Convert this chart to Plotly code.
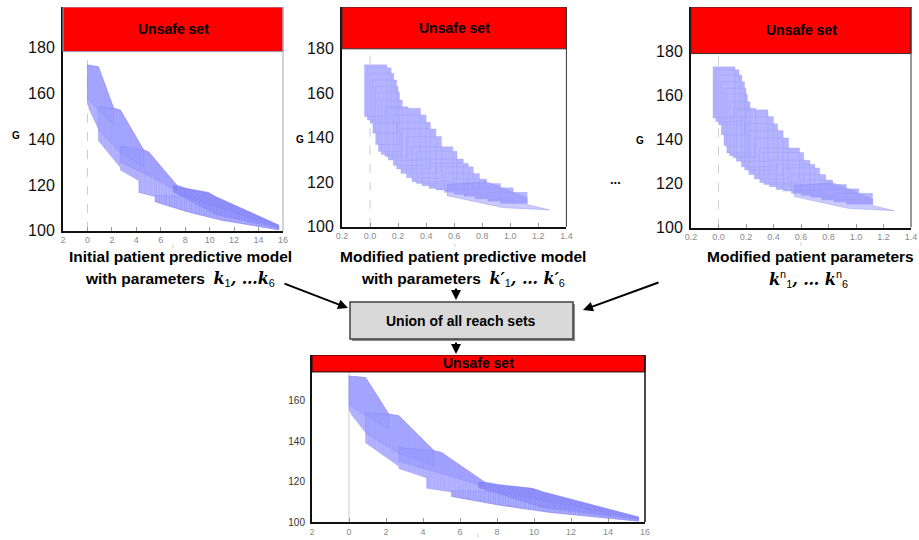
import plotly.graph_objects as go

W, H = 919, 540

# ---------------- data ----------------
# Panel 1 (initial model) and union panel: reach-set flowpipe, time t vs glucose G
p1_env_t = [0, 0.9, 2.15, 2.7, 4.6, 5.0, 7.3, 8.1, 9.9, 10.5, 15.65, 15.65, 10.9, 8.1, 5.55, 5.55,
            4.2, 4.2, 4.0, 2.7, 2.7, 0.9, 0.9, 0.5, 0.15, 0]
p1_env_g = [172.4, 171.6, 153.5, 152.7, 135.3, 134.5, 120.0, 118.5, 116.7, 114.9, 102.5, 100.4, 104.7,
            108.4, 112.7, 114.9, 116.7, 121.8, 122.5, 126.5, 127.6, 139.3, 144.4, 149.0, 153.0, 156.0]
p1_seg1_t = [0, 0.9, 2.15, 2.15, 0.9, 0]
p1_seg1_g = [172.4, 171.6, 153.5, 146.0, 153.0, 158.0]
p1_seg2_t = [0.9, 2.15, 2.7, 4.6, 4.6, 2.7, 0.9]
p1_seg2_g = [154.0, 153.5, 152.7, 135.3, 128.0, 134.0, 144.0]
p1_seg3_t = [2.7, 4.6, 5.0, 7.3, 7.3, 5.0, 2.7]
p1_seg3_g = [137.0, 135.3, 134.5, 120.0, 117.5, 124.0, 130.0]
p1_seg4_t = [7.0, 8.1, 9.9, 10.5, 15.65, 15.65, 10.5, 7.0]
p1_seg4_g = [120.0, 118.5, 116.7, 114.9, 102.5, 101.0, 107.0, 117.0]
p1_seg5_t = [5.55, 8.1, 15.65, 15.65, 10.9, 8.1, 5.55]
p1_seg5_g = [115.5, 115.0, 101.5, 100.4, 104.7, 108.4, 112.7]

# Panels 2 and 3 (modified models): boxes [t0, t1] x [g0, g1]
p2_box_t0 = [-0.04, -0.02, 0.00, 0.02, 0.04, 0.06, 0.08, 0.107, 0.13, 0.166, 0.19, 0.22, 0.26,
             0.30, 0.33, 0.37, 0.42, 0.47, 0.53, 0.60, 0.67, 0.75, 0.84, 0.93]
p2_box_t1 = [0.12, 0.15, 0.17, 0.19, 0.20, 0.21, 0.23, 0.27, 0.36, 0.40, 0.43, 0.47, 0.51,
             0.59, 0.62, 0.665, 0.70, 0.736, 0.78, 0.83, 0.93, 1.02, 1.12, 1.12]
p2_box_g0 = [149.6, 148.0, 146.6, 142.0, 137.0, 133.8, 132.5, 131.6, 130.0, 127.5, 126.0, 124.0, 122.0,
             120.3, 119.5, 118.5, 117.2, 116.5, 115.5, 114.5, 113.7, 112.5, 111.5, 110.5]
p2_box_g1 = [172.8, 171.5, 169.0, 166.0, 163.0, 160.5, 157.0, 154.0, 153.3, 150.3, 147.0, 144.0, 140.6,
             136.0, 134.0, 130.5, 128.6, 127.0, 124.0, 121.5, 119.5, 117.5, 115.5, 112.8]
p2_tail_t = [0.55, 0.83, 1.12, 1.12, 1.28, 0.95, 0.55]
p2_tail_g = [119.0, 120.3, 112.8, 110.0, 107.6, 108.6, 114.0]

y_ticks_big = [100, 120, 140, 160, 180]
y_ticks_union = [100, 120, 140, 160]
t_ticks_hours = [-2, 0, 2, 4, 6, 8, 10, 12, 14, 16]
t_text_hours = ["2", "0", "2", "4", "6", "8", "10", "12", "14", "16"]
t_ticks_short = [-0.2, 0.0, 0.2, 0.4, 0.6, 0.8, 1.0, 1.2, 1.4]
t_text_short = ["0.2", "0.0", "0.2", "0.4", "0.6", "0.8", "1.0", "1.2", "1.4"]

# ---------------- layout helpers ----------------
def PX(px):
    return px / W

def PY(py):
    return 1 - py / H

panels = [
    dict(k="", xd=(63, 283), yd=(7, 230.8), xr=[-2, 16], yr=[100, 197.7], red=178.2,
         yt=y_ticks_big, yfs=16, xt=t_ticks_hours, xtt=t_text_hours, edge="#9aa6c0", dash="dash"),
    dict(k="2", xd=(342, 566.4), yd=(7, 226.8), xr=[-0.2, 1.4], yr=[100, 198.8], red=180.0,
         yt=y_ticks_big, yfs=16, xt=t_ticks_short, xtt=t_text_short, edge="#333333", dash="dash"),
    dict(k="3", xd=(691, 911), yd=(7, 227.5), xr=[-0.2, 1.4], yr=[100, 199.9], red=178.8,
         yt=y_ticks_big, yfs=16, xt=t_ticks_short, xtt=t_text_short, edge="#333333", dash="dash"),
    dict(k="4", xd=(312, 645), yd=(355, 522), xr=[-2, 16], yr=[100, 182.8], red=174.4,
         yt=y_ticks_union, yfs=10, xt=t_ticks_hours, xtt=t_text_hours, edge="#111111", dash="solid"),
]

fig = go.Figure()

edge_col = "rgba(125,125,245,0.55)"

def add_poly(t, g, k, fill, pat=None, fg=None, size=2.5, sol=0.3):
    kw = {}
    if pat:
        kw["fillpattern"] = dict(shape=pat, fgcolor=fg, size=size, solidity=sol, fillmode="overlay")
    fig.add_trace(go.Scatter(
        x=t + [t[0]], y=g + [g[0]], mode="lines", fill="toself", fillcolor=fill,
        line=dict(color=edge_col, width=0.6), hoverinfo="skip", showlegend=False,
        xaxis="x" + k, yaxis="y" + k, **kw))

def add_flowpipe(k):
    add_poly(p1_env_t, p1_env_g, k, "rgb(180,180,255)", "|", "rgba(140,140,250,0.7)", 2.5, 0.3)
    hatch = "rgba(120,120,245,0.7)"
    add_poly(p1_seg1_t, p1_seg1_g, k, "rgba(160,160,255,0.45)", "-", hatch, 2, 0.3)
    add_poly(p1_seg2_t, p1_seg2_g, k, "rgba(160,160,255,0.45)", "-", hatch, 2, 0.3)
    add_poly(p1_seg3_t, p1_seg3_g, k, "rgba(150,150,255,0.45)", "-", hatch, 2, 0.3)
    add_poly(p1_seg4_t, p1_seg4_g, k, "rgba(120,120,245,0.55)", "/", "rgba(100,100,235,0.7)", 3, 0.3)
    add_poly(p1_seg5_t, p1_seg5_g, k, "rgba(160,160,255,0.35)", "|", hatch, 2.5, 0.3)

def add_boxes(k):
    bx, by = [], []
    for a, b, c, d in zip(p2_box_t0, p2_box_t1, p2_box_g0, p2_box_g1):
        bx += [a, b, b, a, a, None]
        by += [c, c, d, d, c, None]
    fig.add_trace(go.Scatter(
        x=bx, y=by, mode="lines", fill="toself", fillcolor="rgb(180,180,255)",
        line=dict(color="rgba(140,140,250,0.4)", width=0.6), hoverinfo="skip",
        showlegend=False, xaxis="x" + k, yaxis="y" + k))
    add_poly(p2_tail_t, p2_tail_g, k, "rgba(150,150,250,0.45)", "-", "rgba(120,120,240,0.5)", 2, 0.3)

add_flowpipe("")
add_boxes("2")
add_boxes("3")
add_flowpipe("4")

layout = dict(width=W, height=H, margin=dict(l=0, r=0, t=0, b=0, autoexpand=False),
              paper_bgcolor="white", plot_bgcolor="white", showlegend=False)
shapes = []
ann = []

def note(text, x, y, size, color="black", family="Liberation Sans"):
    ann.append(dict(text=text, x=PX(x), y=PY(y), xref="paper", yref="paper", showarrow=False,
                    xanchor="center", yanchor="middle",
                    font=dict(family=family, size=size, color=color)))

for p in panels:
    k = p["k"]
    xa = "xaxis" + k
    ya = "yaxis" + k
    layout[xa] = dict(domain=[PX(p["xd"][0]), PX(p["xd"][1])], range=p["xr"], anchor="y" + k,
                      automargin=False,
                      showgrid=False, zeroline=False, showline=True, linecolor="#111", linewidth=1.5,
                      tickvals=p["xt"], ticktext=p["xtt"], ticks="inside", ticklen=4, tickcolor="#999",
                      tickfont=dict(family="Liberation Sans", size=9, color="#8a8a8a"),
                      minor=dict(ticks="inside", ticklen=2, tickcolor="#aaa", nticks=2))
    layout[ya] = dict(domain=[PY(p["yd"][1]), PY(p["yd"][0])], range=p["yr"], anchor="x" + k,
                      automargin=False,
                      showgrid=False, zeroline=False, showline=True, linecolor="#111", linewidth=2,
                      tickvals=p["yt"], ticks="", ticklabelstandoff=3,
                      tickfont=dict(family="Liberation Sans", size=p["yfs"],
                                    color="#111" if p["yfs"] > 12 else "#333"))
    xref = "x" + k
    yref = "y" + k
    # unsafe set
    shapes.append(dict(type="rect", xref=xref + " domain", yref=yref, x0=0, x1=1,
                       y0=p["red"], y1=p["yr"][1], fillcolor="#ff0000",
                       line=dict(color=p["edge"], width=1), layer="above"))
    # right border
    shapes.append(dict(type="line", xref=xref + " domain", yref=yref + " domain", x0=1, x1=1,
                       y0=0, y1=1, line=dict(color=p["edge"], width=1.5 if k == "4" else 1)))
    # t = 0 guide
    shapes.append(dict(type="line", xref=xref, yref=yref, x0=0, x1=0, y0=p["yr"][0], y1=p["red"],
                       line=dict(color="#cccccc", width=1, dash=p["dash"]), layer="below"))
    ann.append(dict(text="<b>Unsafe set</b>", xref=xref + " domain", yref=yref,
                    x=0.5, y=(p["red"] + p["yr"][1]) / 2, showarrow=False,
                    xanchor="center", yanchor="middle",
                    font=dict(family="Liberation Sans", size=14, color="black")))

# small axis labels
for x, y in [(173, 246), (455, 245), (801, 244), (478, 535)]:
    note("t", x, y, 6, "#b8b8b8")
for x, y in [(16, 135), (300, 139), (640, 140)]:
    note("<b>G</b>", x, y, 10)
note("<b>...</b>", 615, 179, 13)

TF = "Liberation Sans"
M = "<span style=\"font-family:'DejaVu Serif';font-size:16px\"><b><i>%s</i></b></span>"
labels = [
    (180, 257, "<b>Initial patient predictive model</b>"),
    (180, 279, "<b>with parameters </b> " + M % "k" + "<sub>1</sub>" + M % ", …k" + "<sub>6</sub>"),
    (463, 257, "<b>Modified patient predictive model</b>"),
    (463, 279, "<b>with parameters </b> " + M % "k′" + "<sub>1</sub>" + M % ", … k′" + "<sub>6</sub>"),
    (810, 257, "<b>Modified patient parameters</b>"),
    (808, 279, M % "k" + "<sup>n</sup><sub>1</sub>" + M % ", … k" + "<sup>n</sup><sub>6</sub>"),
]
for x, y, t in labels:
    note(t, x, y, 15.5, family=TF)

# union box
shapes.append(dict(type="rect", xref="paper", yref="paper", x0=PX(352), x1=PX(575), y0=PY(341), y1=PY(304),
                   fillcolor="#8c8c8c", line=dict(width=0), layer="below"))
shapes.append(dict(type="rect", xref="paper", yref="paper", x0=PX(350), x1=PX(573), y0=PY(339), y1=PY(302),
                   fillcolor="#d9d9d9", line=dict(color="#404040", width=1.5)))
note("<b>Union of all reach sets</b>", 461, 321, 14, family=TF)

# arrows (head, tail) in pixels
for hx, hy, tx, ty in [(348, 308, 283, 283), (456, 300, 456, 287), (583, 310, 660, 282), (456, 354, 456, 341)]:
    ann.append(dict(text="", x=PX(hx), y=PY(hy), xref="paper", yref="paper", showarrow=True,
                    ax=tx - hx, ay=ty - hy, axref="pixel", ayref="pixel",
                    arrowhead=2, arrowsize=1, arrowwidth=2, arrowcolor="black"))

layout["shapes"] = shapes
layout["annotations"] = ann
fig.update_layout(**layout)
fig.write_html("out.html")
